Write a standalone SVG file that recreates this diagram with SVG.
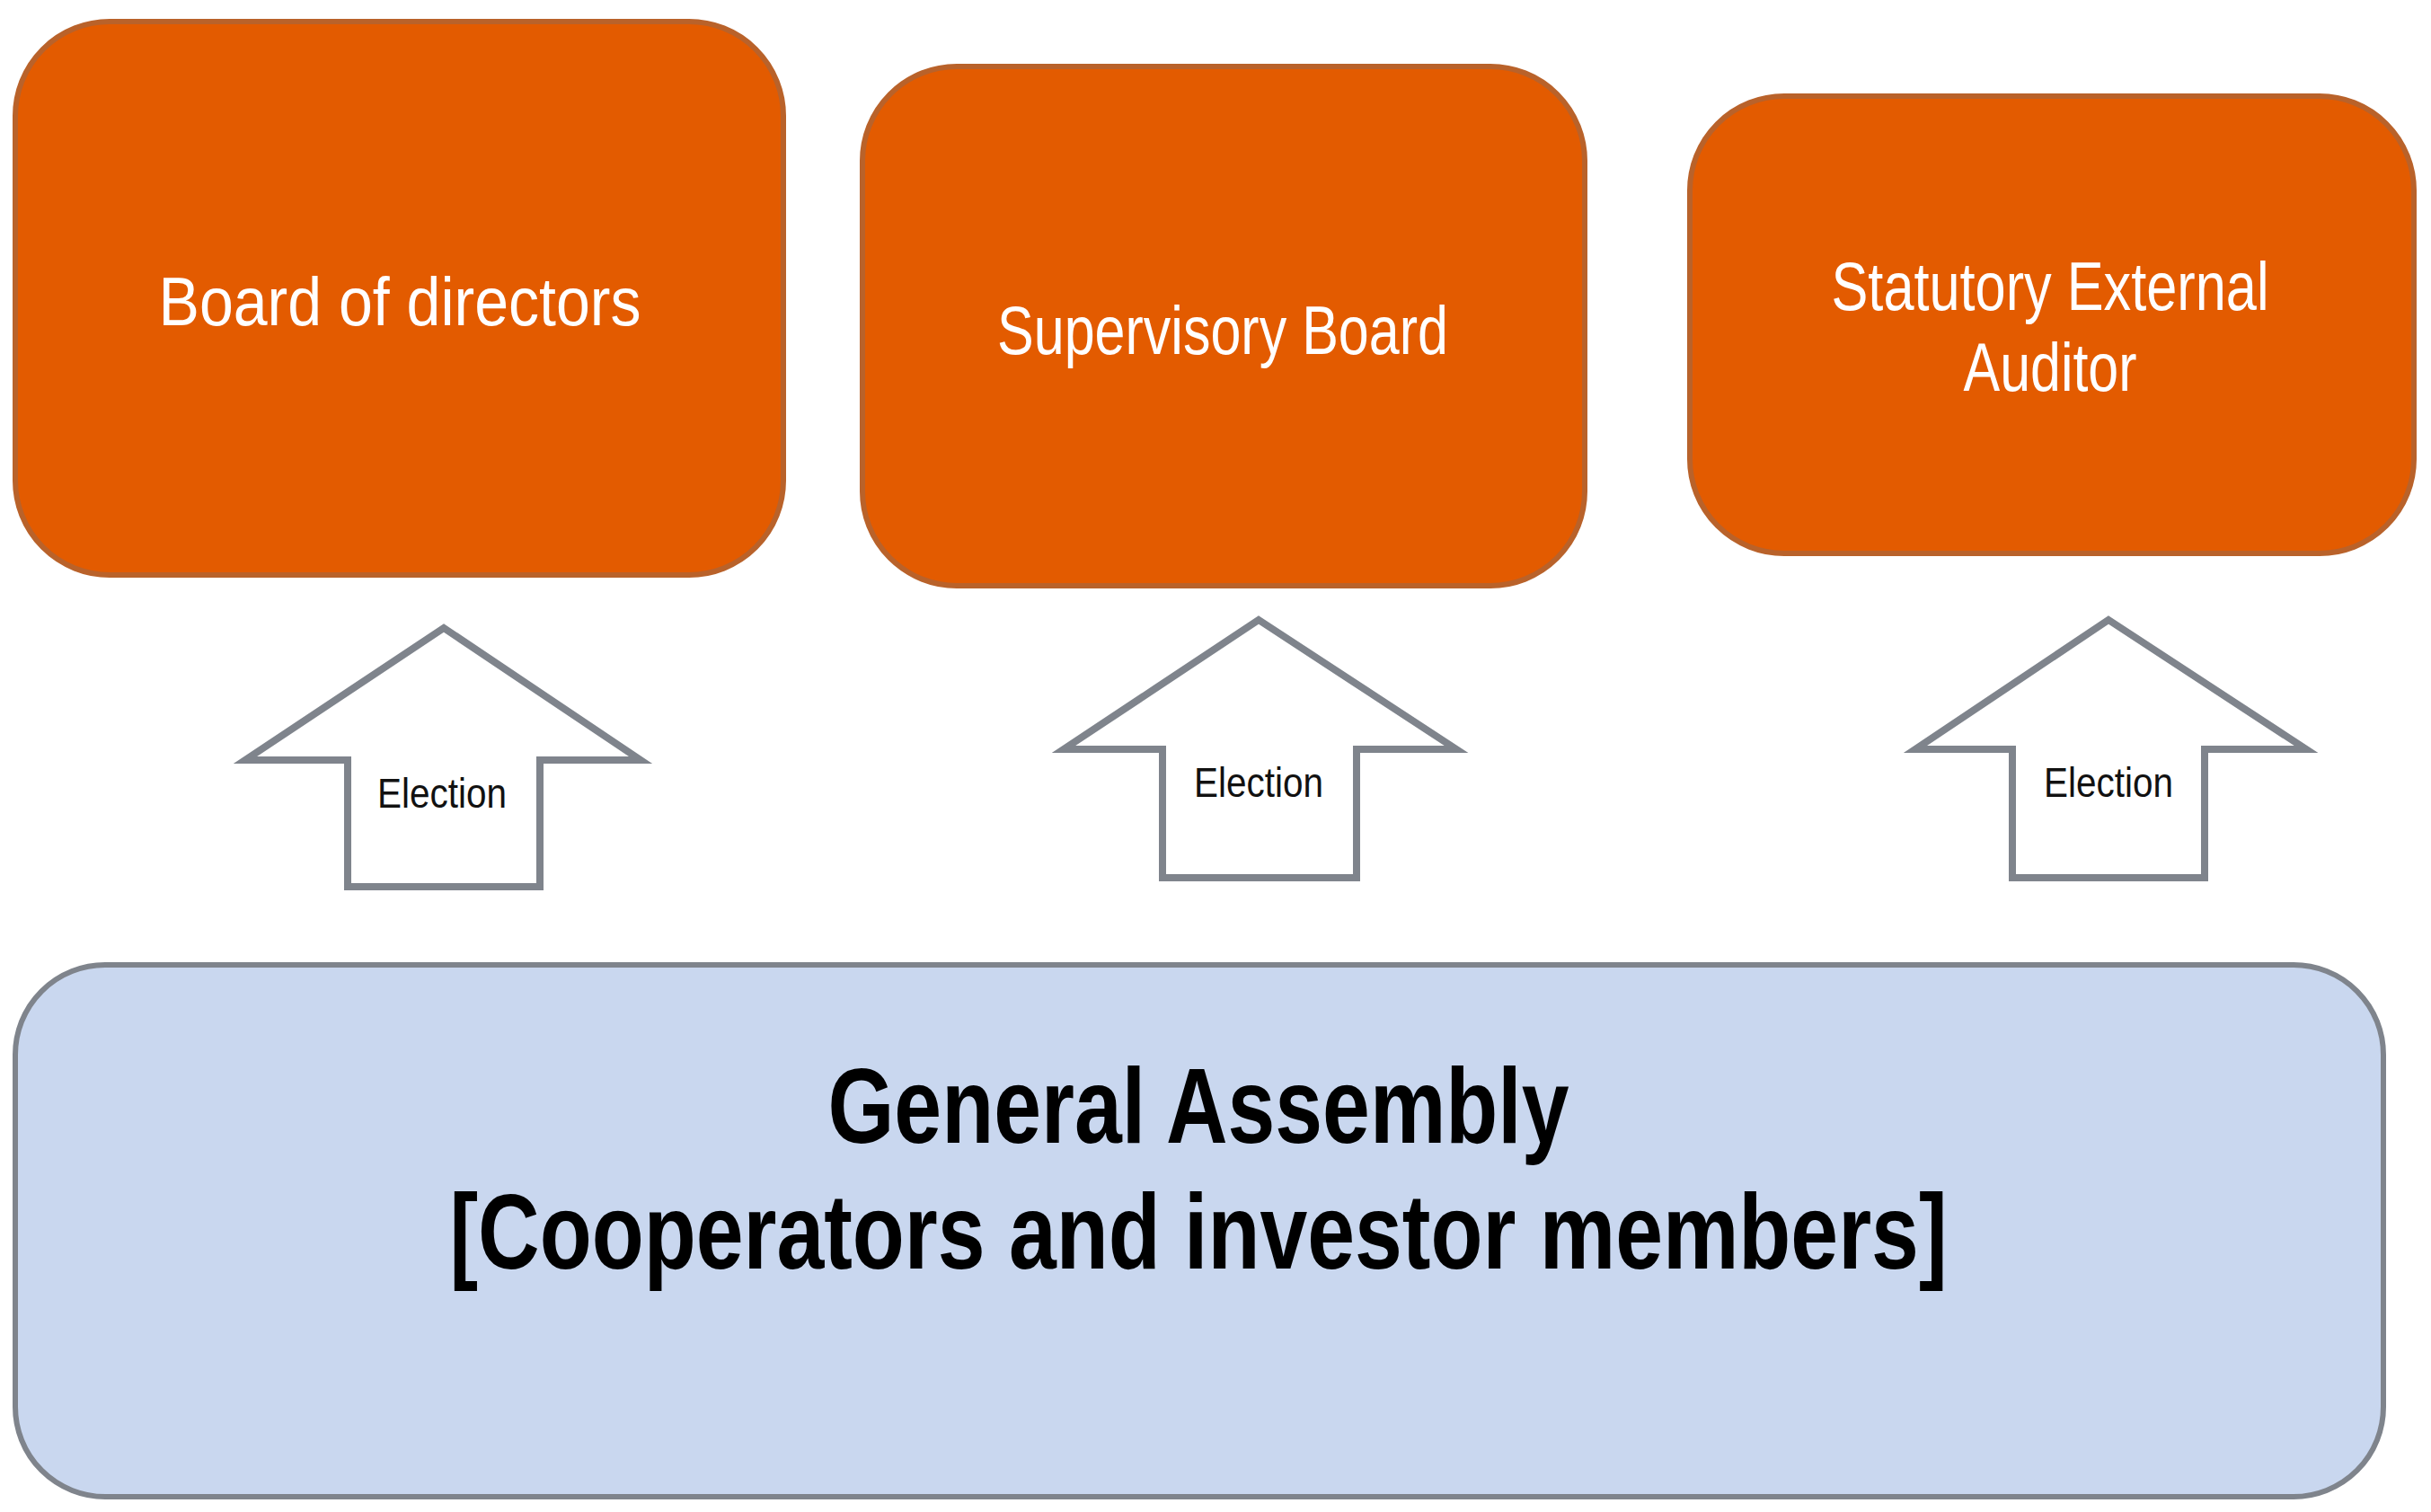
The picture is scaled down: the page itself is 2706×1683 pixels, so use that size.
<svg xmlns="http://www.w3.org/2000/svg" width="2706" height="1683" viewBox="0 0 2706 1683">
<style>
.org{fill:#E35B00;stroke:#B9622A;stroke-width:6}
.ga{fill:#C9D7EF;stroke:#7F848C;stroke-width:6}
.arr{fill:#fff;stroke:#7F848C;stroke-width:8}
.t{font-family:"Liberation Sans",Arial,sans-serif;fill:#fff;font-size:76px;text-anchor:middle}
.e{font-family:"Liberation Sans",Arial,sans-serif;fill:#111;font-size:46px;text-anchor:middle}
.g{font-family:"Liberation Sans",Arial,sans-serif;fill:#000;font-size:118px;font-weight:bold;text-anchor:middle}
</style>
<rect width="2706" height="1683" fill="#fff"/>
<g id="board"><rect class="org" x="17" y="24" width="855" height="616" rx="105"/>
<text class="t" x="445" y="362" textLength="537" lengthAdjust="spacingAndGlyphs">Board of directors</text></g>
<g id="supervisory"><rect class="org" x="960" y="74" width="804" height="578" rx="105"/>
<text class="t" x="1361" y="394" textLength="502" lengthAdjust="spacingAndGlyphs">Supervisory Board</text></g>
<g id="auditor"><rect class="org" x="1881" y="107" width="806" height="509" rx="105"/>
<text class="t" x="2282" y="345" textLength="487" lengthAdjust="spacingAndGlyphs">Statutory External</text>
<text class="t" x="2282" y="435" textLength="193" lengthAdjust="spacingAndGlyphs">Auditor</text></g>
<g id="assembly"><rect class="ga" x="17" y="1074" width="2636" height="592" rx="100"/>
<text class="g" x="1334" y="1272" textLength="825" lengthAdjust="spacingAndGlyphs">General Assembly</text>
<text class="g" x="1334" y="1412" textLength="1667" lengthAdjust="spacingAndGlyphs">[Cooperators and investor members]</text></g>
<g id="connectors">
<g id="arrow1"><polygon class="arr" points="494,699 713,846 601,846 601,987 387,987 387,846 273,846"/>
<text class="e" x="492" y="899" textLength="144" lengthAdjust="spacingAndGlyphs">Election</text></g>
<g id="arrow2"><polygon class="arr" points="1401,690 1621,834 1510,834 1510,977 1294,977 1294,834 1184,834"/>
<text class="e" x="1401" y="887" textLength="144" lengthAdjust="spacingAndGlyphs">Election</text></g>
<g id="arrow3"><polygon class="arr" points="2347,690 2567,834 2454,834 2454,977 2240,977 2240,834 2132,834"/>
<text class="e" x="2347" y="887" textLength="144" lengthAdjust="spacingAndGlyphs">Election</text></g>
</g>
</svg>
